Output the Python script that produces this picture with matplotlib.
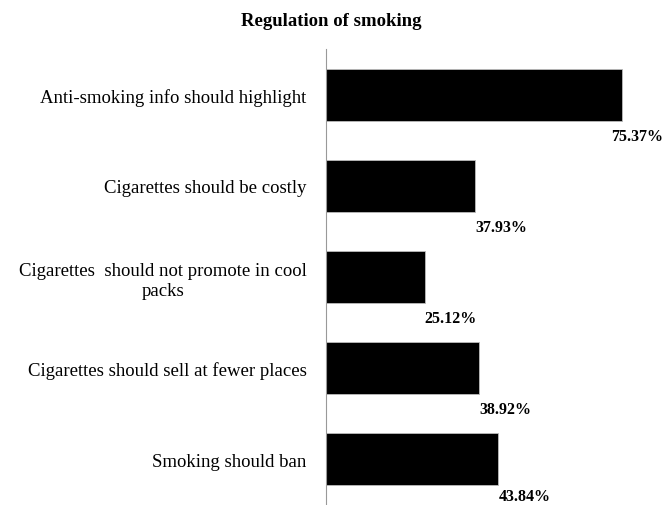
import matplotlib
matplotlib.use('Agg')

import matplotlib.pyplot as plt

categories = [
    "Anti-smoking info should highlight",
    "Cigarettes should be costly",
    "Cigarettes  should not promote in cool\npacks",
    "Cigarettes should sell at fewer places",
    "Smoking should ban",
]
values = [75.37, 37.93, 25.12, 38.92, 43.84]
value_labels = ["75.37%", "37.93%", "25.12%", "38.92%", "43.84%"]

plt.rcParams['font.family'] = ['Liberation Serif', 'DejaVu Serif']

fig = plt.figure(figsize=(6.64, 5.06), dpi=100)
ax = fig.add_axes([326 / 664, 0, 334 / 664, 456 / 506])

pos = list(range(len(categories)))
ax.barh(pos, values, height=0.57, color='black', edgecolor='#bbbbbb', linewidth=0.6)
ax.set_ylim(len(categories) - 0.5, -0.5)
ax.set_xlim(0, 85)

texts = []
for p, v, lab in zip(pos, values, value_labels):
    t = ax.annotate(lab, (v, p + 0.285), xytext=(0, -5), textcoords='offset points',
                    ha='left', va='top', fontsize=11.5, fontweight='bold',
                    annotation_clip=False)
    texts.append(t)

ax.set_yticks(pos)
ax.set_yticklabels(categories, fontsize=13.5, multialignment='center')
ax.tick_params(axis='y', length=0, pad=14)
ax.set_xticks([])
for s in ['top', 'right', 'bottom']:
    ax.spines[s].set_visible(False)
ax.spines['left'].set_color('#999999')
ax.spines['left'].set_linewidth(0.8)

fig.text(331 / 664, 1 - 22 / 506, "Regulation of smoking", ha='center', va='center',
         fontsize=13.5, fontweight='bold')

# keep value labels inside the figure (nudge the ones at the edges)
fig.canvas.draw()
r = fig.canvas.get_renderer()
for t in texts:
    bb = t.get_window_extent(r)
    dx = min(0, (fig.bbox.width - 1) - bb.x1)
    dy = max(0, 1 - bb.y0)
    if dx or dy:
        t.xyann = (t.xyann[0] + dx * 72 / fig.dpi, t.xyann[1] + dy * 72 / fig.dpi)

plt.savefig("out.png", dpi=100)
